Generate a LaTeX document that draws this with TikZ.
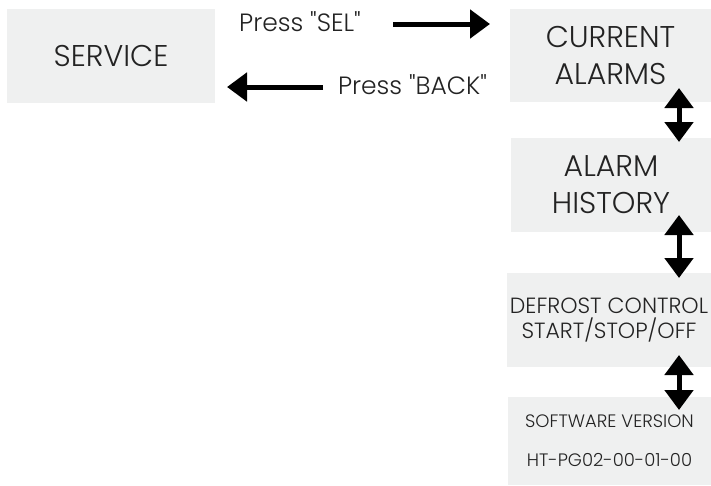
\documentclass[tikz,border=0pt]{standalone}
\usepackage{fontspec}
\setmainfont{Poppins}[UprightFont={* Light}]
\usetikzlibrary{arrows.meta}
\definecolor{boxgrey}{RGB}{239,240,240}
\definecolor{labelgrey}{RGB}{35,35,35}

\begin{document}
\begin{tikzpicture}[x=1pt, y=-1pt,
	menubox/.style={fill=boxgrey, text=labelgrey, align=center, inner sep=0pt},
	keytext/.style={text=labelgrey, inner sep=0pt, anchor=base, font=\fontsize{25}{30}\selectfont},
	keyarrow/.style={line width=5pt, -{Triangle[width=28pt, length=20pt]}},
	bothway/.style={line width=5pt, {Triangle[width=28pt, length=20pt]}-{Triangle[width=28pt, length=20pt]}}]
			%%%%% START %%%%%
			
			\useasboundingbox (0, 0) rectangle (711, 485);
			
			\node[menubox, minimum width=208pt, minimum height=94pt, font=\fontsize{30}{37}\selectfont] (service) at (111, 56) {SERVICE};
			\node[menubox, minimum width=201pt, minimum height=93pt, font=\fontsize{30}{37}\selectfont] (current) at (610.5, 55.5) {CURRENT\\ALARMS};
			\node[menubox, minimum width=200pt, minimum height=94pt, font=\fontsize{30}{37}\selectfont] (history) at (611, 185) {ALARM\\HISTORY};
			\node[menubox, minimum width=204pt, minimum height=94pt, font=\fontsize{22}{25}\selectfont] (defrost) at (609, 320) {DEFROST CONTROL\\START/STOP/OFF};
			\node[menubox, minimum width=203pt, minimum height=88pt, font=\fontsize{18}{39}\selectfont] (software) at (609.5, 441) {SOFTWARE VERSION\\HT-PG02-00-01-00};
			
			\node[keytext] (pressel) at (300, 31) {Press \textquotedbl SEL\textquotedbl};
			\node[keytext] (pressback) at (412.5, 94) {Press \textquotedbl BACK\textquotedbl};
			
			\coordinate (selstart) at (393, 24);
			\coordinate (selend) at (490, 24);
			\coordinate (backstart) at (323, 87);
			\coordinate (backend) at (227, 87);
			
			\coordinate (updownA) at (679, 88);
			\coordinate (updownB) at (679, 142);
			\coordinate (updownC) at (679, 215);
			\coordinate (updownD) at (679, 278);
			\coordinate (updownE) at (679, 355);
			\coordinate (updownF) at (679, 410);
			
			\draw[keyarrow] (selstart) -- (selend);
			\draw[keyarrow] (backstart) -- (backend);
			
			\draw[bothway] (updownA) -- (updownB);
			\draw[bothway] (updownC) -- (updownD);
			\draw[bothway] (updownE) -- (updownF);
			
			%%%%% END %%%%%
\end{tikzpicture}
\end{document}
